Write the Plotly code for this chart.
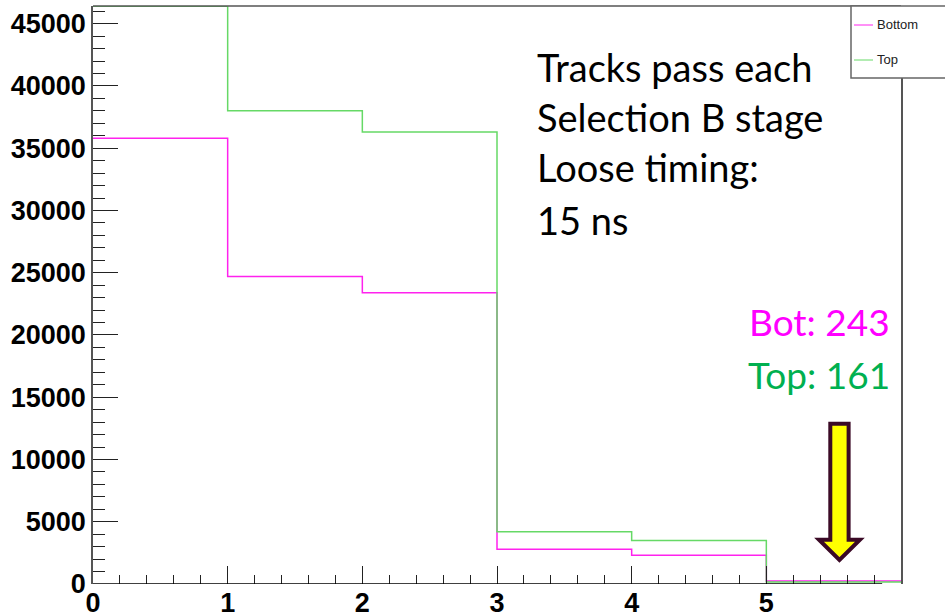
import plotly.graph_objects as go

# Histogram contents: number of tracks passing each Selection B stage
bin_edges = [0, 1, 2, 3, 4, 5, 6]
bottom_counts = [35800, 24700, 23400, 2800, 2300, 243]
top_counts = [46400, 38000, 36300, 4200, 3500, 161]

y_major = list(range(0, 45001, 5000))
y_minor = [v for v in range(0, 46001, 1000) if v % 5000]
x_major = [0, 1, 2, 3, 4, 5]
x_minor = [round(i * 0.2, 1) for i in range(1, 30) if i % 5]

W, H = 945, 613
L, R, T, B = 93, 44, 6, 29
PW, PH = W - L - R, H - T - B


def px(x):
    return (x - L) / PW


def py(y):
    return (H - B - y) / PH


def step_y(counts):
    return counts + [counts[-1]]


MAGENTA = "#FF22EE"
GREEN = "#66D966"

fig = go.Figure()
fig.add_trace(go.Scatter(x=bin_edges, y=step_y(bottom_counts), mode="lines",
                         line=dict(shape="hv", color=MAGENTA, width=1.5),
                         name="Bottom", showlegend=False))
fig.add_trace(go.Scatter(x=bin_edges, y=step_y(top_counts), mode="lines",
                         line=dict(shape="hv", color=GREEN, width=1.5),
                         name="Top", showlegend=False))

tick_font = dict(family="Liberation Sans", size=27, color="black", weight="bold")

fig.update_xaxes(range=[0, 6], showgrid=False, zeroline=False, showline=False,
                 automargin=False,
                 ticks="inside", tickvals=x_major, ticktext=[str(v) for v in x_major],
                 ticklen=18, tickwidth=1, tickcolor="#222",
                 minor=dict(tickvals=x_minor, ticks="inside", ticklen=9,
                            tickwidth=1, tickcolor="#222"),
                 tickfont=tick_font)
fig.update_yaxes(range=[0, 46420], showgrid=False, zeroline=False,
                 automargin=False,
                 showline=True, linecolor="#555", linewidth=1.5, mirror=True,
                 ticks="inside", tickvals=y_major, ticktext=[str(v) for v in y_major],
                 ticklen=25, tickwidth=1, tickcolor="#222",
                 minor=dict(tickvals=y_minor, ticks="inside", ticklen=12,
                            tickwidth=1, tickcolor="#222"),
                 tickfont=tick_font)

shapes = [
    # frame top edge
    dict(type="line", xref="paper", yref="paper", x0=0, x1=1, y0=1, y1=1,
         line=dict(color="#555", width=1.5)),
    # x axis line
    dict(type="line", xref="x", yref="y", x0=0, x1=5.86, y0=0, y1=0,
         line=dict(color="black", width=1.5)),
    # legend box
    dict(type="rect", xref="paper", yref="paper", x0=px(851), x1=px(965),
         y0=py(78), y1=py(6), fillcolor="white", line=dict(color="#666", width=1.5),
         layer="above"),
    dict(type="line", xref="paper", yref="paper", x0=px(854), x1=px(873),
         y0=py(25), y1=py(25), line=dict(color=MAGENTA, width=1), layer="above"),
    dict(type="line", xref="paper", yref="paper", x0=px(854), x1=px(873),
         y0=py(60), y1=py(60), line=dict(color=GREEN, width=1), layer="above"),
]

# arrow pointing at the last bin
ax, hw, HW = 5.543, 0.068, 0.152
y_top, y_head, y_tip = 12870, 3560, 1930
arrow_path = (f"M {ax - hw},{y_top} L {ax + hw},{y_top} L {ax + hw},{y_head} "
              f"L {ax + HW},{y_head} L {ax},{y_tip} L {ax - HW},{y_head} "
              f"L {ax - hw},{y_head} Z")
shapes.append(dict(type="path", xref="x", yref="y", path=arrow_path,
                   fillcolor="#FFFF00", line=dict(color="#3B0A26", width=4),
                   layer="above"))

annotations = []
legend_font = dict(family="Liberation Sans", size=13, color="#222")
for label, y in [("Bottom", 25), ("Top", 60)]:
    annotations.append(dict(text=label, xref="paper", yref="paper", x=px(875), y=py(y),
                            xanchor="left", yanchor="middle", showarrow=False,
                            font=legend_font))

note_font = dict(family="Lato", size=38, color="black")
for line, y in [("Tracks pass each", 67), ("Selection B stage", 117),
                ("Loose timing:", 167), ("15 ns", 220)]:
    annotations.append(dict(text=line, xref="paper", yref="paper", x=px(535), y=py(y),
                            xanchor="left", yanchor="middle", showarrow=False,
                            font=note_font))

annotations.append(dict(text=f"Bot: {bottom_counts[-1]}", xref="paper", yref="paper",
                        x=px(892), y=py(322), xanchor="right", yanchor="middle",
                        showarrow=False, font=dict(family="Lato", size=37, color="#FF00FF")))
annotations.append(dict(text=f"Top: {top_counts[-1]}", xref="paper", yref="paper",
                        x=px(892), y=py(374), xanchor="right", yanchor="middle",
                        showarrow=False, font=dict(family="Lato", size=37, color="#00B050")))

fig.update_layout(width=W, height=H, margin=dict(l=L, r=R, t=T, b=B),
                  paper_bgcolor="white", plot_bgcolor="white",
                  shapes=shapes, annotations=annotations, showlegend=False)

fig.write_html("out.html")
